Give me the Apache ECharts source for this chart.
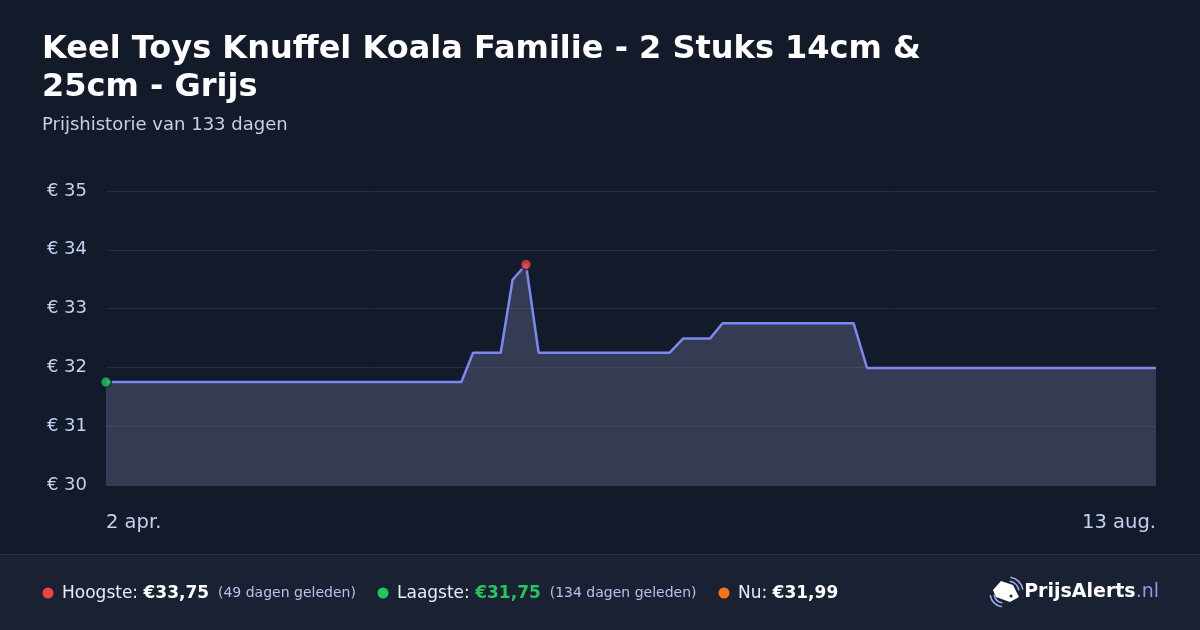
<!DOCTYPE html>
<html>
<head>
<meta charset="utf-8">
<script src="https://cdn.jsdelivr.net/npm/echarts@6/dist/echarts.min.js"></script>
<style>
html,body{margin:0;padding:0;background:#131a2a;}
#c{width:1200px;height:630px;}
</style>
</head>
<body>
<div id="c"></div>
<script>
// Data: day offsets from 2 apr. and prices (EUR)
const dayOffsets = [0, 45, 46.5, 50, 51.5, 53.2, 54.8, 71.4, 73.1, 76.5, 78.1, 94.7, 96.4, 133];
const prices     = [31.75, 31.75, 32.25, 32.25, 33.49, 33.75, 32.25, 32.25, 32.49, 32.49, 32.75, 32.75, 31.99, 31.99];
const xTickLabels = ['2 apr.', '13 aug.'];
const yTicks = [30, 31, 32, 33, 34, 35];
const titleText = 'Keel Toys Knuffel Koala Familie - 2 Stuks 14cm &\n25cm - Grijs';
const subtitleText = 'Prijshistorie van 133 dagen';
const highest = {label: 'Hoogste: ', value: '€33,75', note: '(49 dagen geleden)'};
const lowest  = {label: 'Laagste: ', value: '€31,75', note: '(134 dagen geleden)'};
const current = {label: 'Nu: ', value: '€31,99'};

const lineData = dayOffsets.map((d, i) => [d, prices[i]]);
const maxIdx = prices.indexOf(Math.max(...prices));
const minIdx = prices.indexOf(Math.min(...prices));

const font = "'DejaVu Sans', sans-serif";
const chart = echarts.init(document.getElementById('c'));
chart.setOption({
  backgroundColor: '#131a2a',
  animation: false,
  title: [{
    text: titleText,
    left: 37, top: 26,
    padding: 5,
    textStyle: {color: '#ffffff', fontFamily: font, fontWeight: 'bold', fontSize: 32, lineHeight: 38}
  }, {
    text: subtitleText,
    left: 37, top: 111,
    textStyle: {color: '#c8d0e8', fontFamily: font, fontWeight: 'normal', fontSize: 18}
  }],
  grid: {left: 106, right: 44, top: 191, bottom: 145, containLabel: false},
  xAxis: {
    type: 'value', min: 0, max: 133, interval: 133,
    axisLine: {show: false}, axisTick: {show: false}, splitLine: {show: false},
    axisLabel: {
      color: '#c8d0f0', fontFamily: font, fontSize: 19.5, margin: 28,
      alignMinLabel: 'left', alignMaxLabel: 'right',
      formatter: v => v === 0 ? xTickLabels[0] : (v === 133 ? xTickLabels[1] : '')
    }
  },
  yAxis: {
    type: 'value', min: yTicks[0], max: yTicks[yTicks.length - 1], interval: 1,
    axisLine: {show: false}, axisTick: {show: false},
    splitLine: {lineStyle: {color: '#262d3d', width: 1}},
    axisLabel: {color: '#c8d0f0', fontFamily: font, fontSize: 18, margin: 19, formatter: v => '€ ' + v}
  },
  series: [{
    type: 'line',
    data: lineData,
    symbol: 'none',
    lineStyle: {color: '#7d88f0', width: 2.5},
    areaStyle: {color: 'rgba(150,150,195,0.38)'},
    markLine: {
      silent: true, symbol: 'none', label: {show: false},
      lineStyle: {color: '#3a4052', type: 'solid', width: 1.5},
      data: [{yAxis: yTicks[0]}]
    },
    z: 2
  }, {
    type: 'scatter',
    data: [
      {value: lineData[maxIdx], itemStyle: {color: '#ef4444'}},
      {value: lineData[minIdx], itemStyle: {color: '#22c55e'}}
    ],
    symbolSize: 10.5,
    itemStyle: {borderColor: '#131a2a', borderWidth: 1.5},
    z: 5
  }],
  graphic: [
    {type: 'rect', shape: {x: 0, y: 555, width: 1200, height: 75}, style: {fill: '#1a2132'}, z: -1},
    {type: 'rect', shape: {x: 0, y: 554, width: 1200, height: 1}, style: {fill: '#27304a'}, z: -1},
    {type: 'circle', shape: {cx: 48, cy: 593, r: 5.5}, style: {fill: '#ef4444'}},
    {type: 'text', left: 62, top: 585, style: {
      text: '{l|' + highest.label + '}{v|' + highest.value + '}{n|  ' + highest.note + '}',
      rich: {
        l: {fill: '#e8ecf8', fontFamily: font, fontSize: 17},
        v: {fill: '#ffffff', fontFamily: font, fontSize: 17, fontWeight: 'bold'},
        n: {fill: '#b8c2ea', fontFamily: font, fontSize: 14}
      }}},
    {type: 'circle', shape: {cx: 383, cy: 593, r: 5.5}, style: {fill: '#22c55e'}},
    {type: 'text', left: 397, top: 585, style: {
      text: '{l|' + lowest.label + '}{v|' + lowest.value + '}{n|  ' + lowest.note + '}',
      rich: {
        l: {fill: '#e8ecf8', fontFamily: font, fontSize: 17},
        v: {fill: '#22c55e', fontFamily: font, fontSize: 17, fontWeight: 'bold'},
        n: {fill: '#b8c2ea', fontFamily: font, fontSize: 14}
      }}},
    {type: 'circle', shape: {cx: 724, cy: 593, r: 5.5}, style: {fill: '#f97316'}},
    {type: 'text', left: 738, top: 585, style: {
      text: '{l|' + current.label + '}{v|' + current.value + '}',
      rich: {
        l: {fill: '#e8ecf8', fontFamily: font, fontSize: 17},
        v: {fill: '#ffffff', fontFamily: font, fontSize: 17, fontWeight: 'bold'}
      }}},
    // logo icon: tilted tag with signal waves
    {type: 'polygon', shape: {points: [[993, 590], [1001, 581], [1013, 585], [1019, 597], [1010, 602], [996, 597]]}, style: {fill: '#ffffff'}},
    {type: 'circle', shape: {cx: 1011, cy: 596, r: 1.5}, style: {fill: '#1a2132'}},
    {type: 'arc', shape: {cx: 1004, cy: 593, r: 10, startAngle: Math.PI * 0.55, endAngle: Math.PI * 0.95}, style: {stroke: '#9fb0f0', lineWidth: 1.5, fill: null}},
    {type: 'arc', shape: {cx: 1004, cy: 593, r: 14, startAngle: Math.PI * 0.55, endAngle: Math.PI * 0.95}, style: {stroke: '#9fb0f0', lineWidth: 1.5, fill: null}},
    {type: 'arc', shape: {cx: 1008, cy: 592, r: 11, startAngle: -Math.PI * 0.45, endAngle: -Math.PI * 0.05}, style: {stroke: '#9fb0f0', lineWidth: 1.5, fill: null}},
    {type: 'arc', shape: {cx: 1008, cy: 592, r: 15, startAngle: -Math.PI * 0.45, endAngle: -Math.PI * 0.05}, style: {stroke: '#9fb0f0', lineWidth: 1.5, fill: null}},
    {type: 'text', right: 41, top: 583, style: {
      text: '{b|PrijsAlerts}{n|.nl}',
      rich: {
        b: {fill: '#ffffff', fontFamily: font, fontSize: 19, fontWeight: 'bold'},
        n: {fill: '#8c9ce8', fontFamily: font, fontSize: 19}
      }}}
  ]
});
</script>
</body>
</html>
